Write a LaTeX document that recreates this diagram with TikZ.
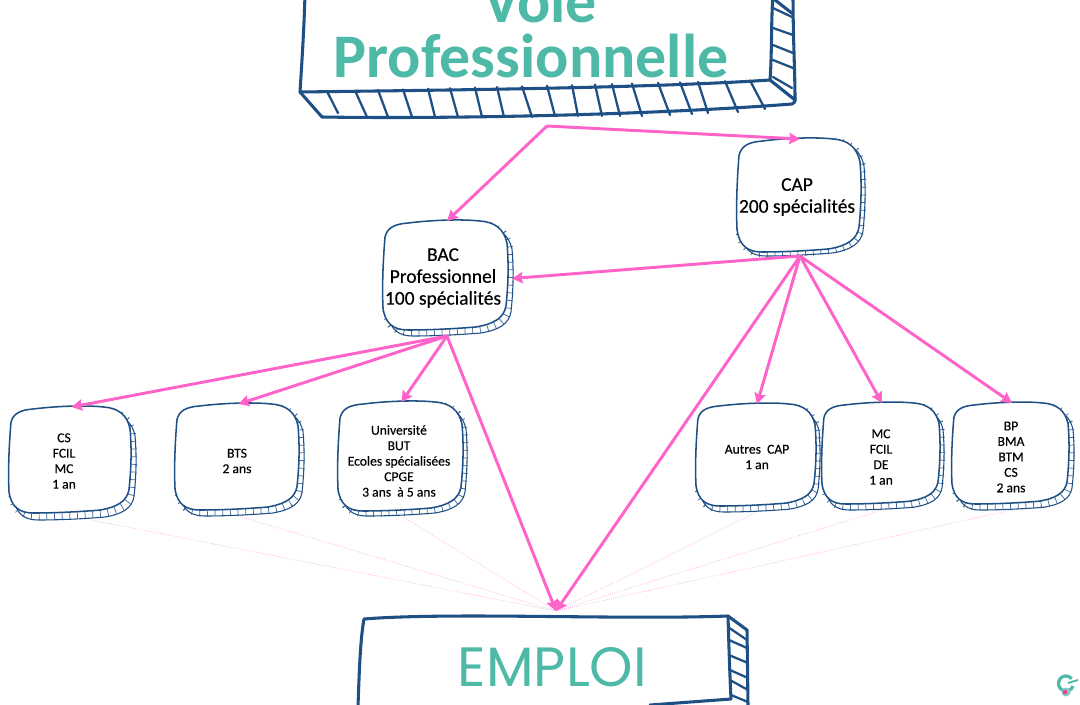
\documentclass[tikz,border=0pt]{standalone}
\usepackage{fontspec}
\setmainfont{Carlito}[FakeBold=0.3]
\newfontfamily\titlefont{Carlito}
\newfontfamily\emploifont{Poppins}
\usetikzlibrary{arrows.meta}
\definecolor{skblue}{HTML}{1F5085}
\definecolor{sktick}{HTML}{3F6C9C}
\definecolor{skteal}{HTML}{4DB9A6}
\definecolor{skpink}{HTML}{FF62C8}
\definecolor{skthin}{HTML}{FFA8E0}
\tikzset{
  x=0.75pt,y=-0.75pt,
  flowarrow/.style={draw=skpink,line width=2.2pt,-{Stealth[length=8pt,width=8.5pt,inset=1pt]}},
  thinlink/.style={draw=skthin,line width=0.5pt,densely dotted},
  hub box/.style={inner sep=0pt,outer sep=0pt,draw=none},
  big edge/.style={draw=skblue,line width=2.3pt,line join=round,line cap=round},
  big tick/.style={draw=skblue,line width=1.7pt,line cap=round},
  lbl small/.style={align=center,inner sep=0pt,font=\fontsize{10.2pt}{11.6pt}\selectfont},
  lbl large/.style={align=center,inner sep=0pt,font=\fontsize{14.6pt}{16.4pt}\selectfont},
}
% hand-drawn rounded box, unit shape 125 x 108 px
\def\skfront{(3,16) .. controls (5,7) and (12,3) .. (26,2) .. controls (50,-1) and (80,-2) .. (98,0) .. controls (113,1) and (122,8) .. (125,22) .. controls (127,45) and (126,65) .. (124,84) .. controls (122,96) and (112,102) .. (94,105) .. controls (70,107) and (45,108) .. (26,108) .. controls (12,108) and (3,102) .. (1,86) .. controls (0,65) and (1,40) .. (3,16) -- cycle}
\def\skback{(98,0) .. controls (113,1) and (122,8) .. (125,22) .. controls (127,45) and (126,65) .. (124,84) .. controls (122,96) and (112,102) .. (94,105) .. controls (70,107) and (45,108) .. (26,108) .. controls (12,108) and (3,102) .. (1,86)}
\newcommand{\skbox}[9]{%
  \pgfmathsetmacro{\skxs}{(#4-#2-#6)/125}%
  \pgfmathsetmacro{\skys}{(#5-#3-#7)/108}%
  \node[hub box,minimum width={(#4-#2)*0.75pt},minimum height={(#5-#3)*0.75pt}] (#1) at ({(#2+#4)/2},{(#3+#5)/2}) {};
  \begin{scope}[shift={(#2+#6/2,#3+#7/2)},xscale=\skxs,yscale=\skys]
    \draw[sktick,line width=5pt,dash pattern=on 0.55pt off 5.2pt] \skback;
  \end{scope}
  \begin{scope}[shift={(#2+#6,#3+#7)},xscale=\skxs,yscale=\skys]
    \draw[skblue,line width=0.8pt] \skback;
  \end{scope}
  \begin{scope}[shift={(#2,#3)},xscale=\skxs,yscale=\skys]
    \draw[skblue,line width=1.15pt,fill=white] \skfront;
  \end{scope}
  \skboxlabel{#1}{#8}{#9}%
}
\newcommand{\skboxlabel}[3]{\def\sklabname{#1}\def\sklabx{#2}\def\sklaby{#3}\skboxtext}
\newcommand{\skboxtext}[2]{\node[#1] (\sklabname-t) at (\sklabx,\sklaby) {#2};}
\begin{document}
\begin{tikzpicture}
\useasboundingbox (0,0) rectangle (1080,704);
\clip (0,0) rectangle (1080,704);
\fill[white] (0,0) rectangle (1080,704);

% ---------- top box
\node[hub box,minimum width=371pt,minimum height=90pt] (voie) at (547,58) {};
\foreach \a/\b/\c/\d in {773/8/792/17,773/28/793/35,773/45/793/53,773/60/793/68,773/77/792/88}
  \draw[big tick] (\a,\b) -- (\c,\d);
\foreach \t/\b/\yb in {327/338/113,355/367/117,378/388/117,403/412/117,428/435/117,450/458/117,475/482/117,497/504/117,522/532/117,547/555/116,572/578/116,595/602/116,612/620/116,632/642/116,658/670/115,680/692/114,698/708/113,725/738/112,750/765/109}{
  \pgfmathsetmacro{\yt}{92-(\t-300)*12/470}
  \draw[big tick] (\t,\yt) -- (\b,\yb);
}
\draw[big edge] (305,-6) .. controls (304,30) and (302,60) .. (300,92)
  .. controls (450,90) and (650,88) .. (770,80)
  .. controls (772,55) and (771,20) .. (773,-6);
\draw[big edge] (300,92) -- (322,117) .. controls (450,119) and (650,115) .. (792,104) .. controls (796,102) and (795,100) .. (795,98);
\draw[big edge] (770,80) -- (795,100) .. controls (795,70) and (793,40) .. (793,-6);
\draw[big edge] (775,0) -- (793,14);
\node[inner sep=0pt,text=skteal,font=\titlefont\bfseries\fontsize{46.5pt}{46.5pt}\selectfont,anchor=base] (voie-a) at (540,22) {Voie};
\node[inner sep=0pt,text=skteal,font=\titlefont\bfseries\fontsize{46.5pt}{46.5pt}\selectfont,anchor=base] (voie-b) at (531,77) {Professionnelle};

% ---------- emploi box
\node[hub box,minimum width=292pt,minimum height=66pt] (emploi) at (553,660) {};
\foreach \a/\b/\c/\d in {728/627/747/640,729/640/747/648,729/655/748/663,730/670/748/678,730/680/748/690,731/695/748/702}
  \draw[big tick] (\a,\b) -- (\c,\d);
\draw[big edge] (358,706) .. controls (359,680) and (360,640) .. (364,619)
  .. controls (450,612) and (620,620) .. (728,616)
  .. controls (729,650) and (730,680) .. (731,699) -- (650,705);
\draw[big edge] (728,616) -- (747,630) -- (748,706);
\node[inner sep=0pt,text=skteal,font=\emploifont\fontsize{41.5pt}{41.5pt}\selectfont,anchor=base] (emploi-t) at (552.5,686) {EMPLOI};

% ---------- boxes
\skbox{cap}{736}{139}{864}{256}{4}{4}{797}{197}{lbl large}{CAP\\200 spécialités}
\skbox{bac}{382}{221}{512}{336}{5}{6}{443}{278}{lbl large}{BAC\\Professionnel\\100 spécialités}
\skbox{cs}{8}{407}{135}{520}{5}{7}{64}{461}{lbl small}{CS\\FCIL\\MC\\1 an}
\skbox{bts}{174}{404}{303}{516}{5}{6}{237}{461}{lbl small}{BTS\\2 ans}
\skbox{univ}{337}{402}{466}{516}{4}{5}{399}{461}{lbl small}{Université\\BUT\\Ecoles spécialisées\\CPGE\\3 ans \ à 5 ans}
\skbox{autres}{695}{404}{819}{512}{4}{6}{757}{457}{lbl small}{Autres \ CAP\\1 an}
\skbox{mc}{821}{403}{943}{510}{4}{6}{881}{457}{lbl small}{MC\\FCIL\\DE\\1 an}
\skbox{bp}{951}{403}{1073}{510}{5}{6}{1011}{457}{lbl small}{BP\\BMA\\BTM\\CS\\2 ans}

% ---------- connectors
\coordinate (fork) at (547,126);
\coordinate (hub) at (556,611);
\draw[thinlink] ([xshift=15pt]cs.south) -- (hub);
\draw[thinlink] (bts.south) -- (hub);
\draw[thinlink] (univ.south) -- (hub);
\draw[thinlink] (autres.south) -- (hub);
\draw[thinlink] (mc.south) -- (hub);
\draw[thinlink] (bp.south) -- (hub);
\draw[flowarrow] (fork) -- (bac.north);
\draw[flowarrow] (fork) -- (cap.north);
\draw[flowarrow] (cap.south) -- (bac.east);
\draw[flowarrow] (cap.south) -- (hub);
\draw[flowarrow] (cap.south) -- (autres.north);
\draw[flowarrow] (cap.south) -- (mc.north);
\draw[flowarrow] (cap.south) -- (bp.north);
\draw[flowarrow] (bac.south) -- (cs.north);
\draw[flowarrow] (bac.south) -- (bts.north);
\draw[flowarrow] (bac.south) -- (univ.north);
\draw[flowarrow] (bac.south) -- (hub);

% ---------- small logo
\draw[skteal,line width=2.4pt] (1073,686) arc (20:320:7.5);
\draw[skteal,line width=1.4pt] (1068,683) -- (1078,680);
\fill[skteal!70] (1066,692) circle (4.5);
\fill[skpink!70!purple] (1065,692) circle (2.4);
\end{tikzpicture}
\end{document}
